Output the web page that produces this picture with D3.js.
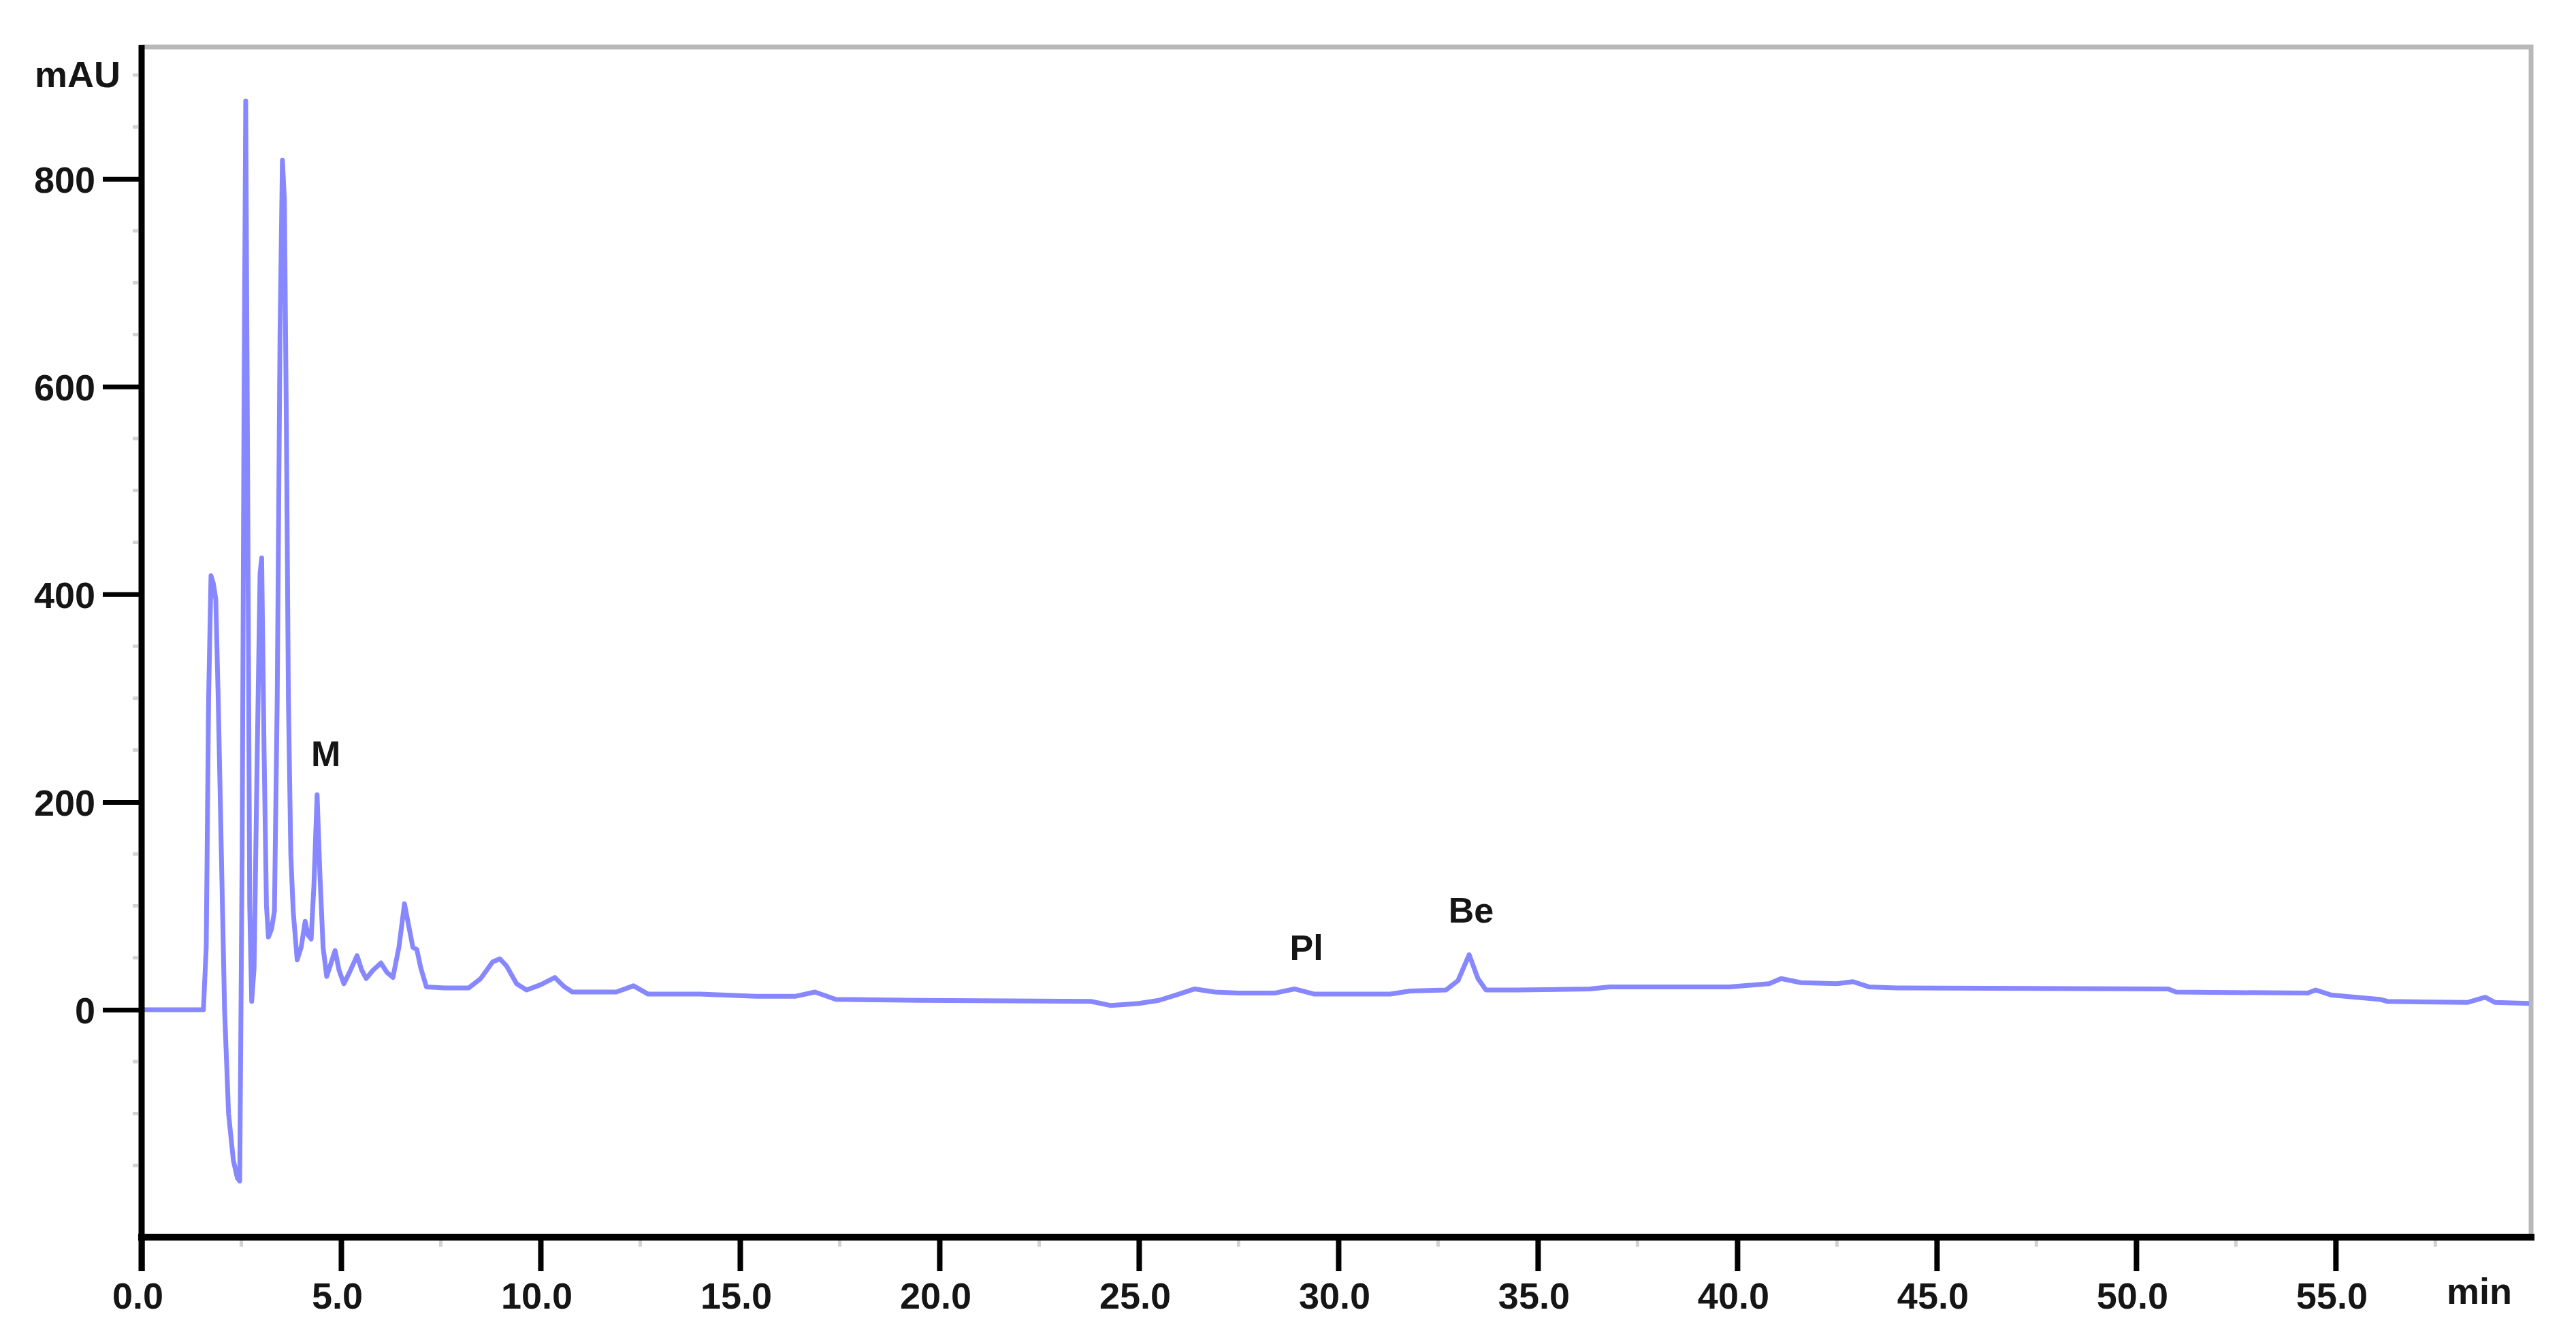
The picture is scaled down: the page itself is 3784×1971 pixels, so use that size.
<!DOCTYPE html>
<html>
<head>
<meta charset="utf-8">
<script src="https://cdn.jsdelivr.net/npm/d3@7"></script>
<style>
  html, body { margin: 0; padding: 0; background: #fff; }
  text { font-family: "Liberation Sans", Arial, sans-serif; font-weight: bold; fill: #151515; }
</style>
</head>
<body>
<div id="chart"></div>
<script>
// chromatogram trace: retention time (min) and absorbance (mAU)
var times = [0, 1.55, 1.62, 1.68, 1.74, 1.8, 1.86, 1.92, 2.0, 2.08, 2.18, 2.3, 2.4, 2.46,
  2.52, 2.57, 2.61, 2.66, 2.71, 2.76, 2.82, 2.9, 2.97, 3.01, 3.07, 3.13, 3.18, 3.26, 3.33,
  3.4, 3.47, 3.53, 3.58, 3.63, 3.68, 3.74, 3.8, 3.9, 4.0, 4.1, 4.17, 4.25, 4.32, 4.4, 4.47,
  4.55, 4.64, 4.75, 4.85, 4.95, 5.07, 5.2, 5.4, 5.52, 5.63, 5.8, 6.0, 6.15, 6.3, 6.45, 6.59,
  6.7, 6.8, 6.9, 7.0, 7.14, 7.6, 8.2, 8.5, 8.8, 8.98, 9.15, 9.4, 9.65, 10.0, 10.36, 10.6,
  10.8, 11.9, 12.33, 12.7, 14.0, 15.4, 16.4, 16.88, 17.4, 19.5, 23.8, 24.3, 25.0, 25.5, 26.0,
  26.4, 26.9, 27.5, 28.4, 28.9, 29.4, 31.3, 31.8, 32.7, 33.0, 33.28, 33.5, 33.7, 34.5, 36.3,
  36.8, 39.8, 40.8, 41.1, 41.6, 42.5, 42.9, 43.3, 44.0, 50.8, 51.0, 54.3, 54.5, 54.9, 56.1,
  56.3, 58.3, 58.75, 59.0, 59.85];
var absorb = [0, 0, 60, 300, 418, 410, 395, 300, 150, 0, -100, -145, -162, -165,
  150, 600, 875, 500, 100, 8, 40, 250, 420, 435, 250, 100, 70, 78, 95,
  300, 650, 818, 780, 560, 300, 150, 95, 48, 60, 85, 72, 68, 120, 207, 130,
  60, 32, 45, 57, 38, 25, 35, 52, 38, 30, 38, 45, 36, 31, 60, 102,
  80, 60, 58, 40, 22, 21, 21, 30, 46, 49, 42, 25, 19, 24, 31, 22,
  17, 17, 23, 15, 15, 13, 13, 17, 10, 9, 8, 4, 6, 9, 15,
  20, 17, 16, 16, 20, 15, 15, 18, 19, 28, 53, 30, 19, 19, 20,
  22, 22, 25, 30, 26, 25, 27, 22, 21, 20, 17, 16, 19, 14, 10,
  8, 7, 12, 7, 6];

var xTicks = [0, 5, 10, 15, 20, 25, 30, 35, 40, 45, 50, 55];
var yTicks = [0, 200, 400, 600, 800];

// peak annotations
var peakNames = ["M", "Pl", "Be"];
var peakTimes = [4.62, 29.2, 33.33];
var peakLabelLevels = [235, 48, 84];

var W = 3784, H = 1971;
var svg = d3.select("#chart").append("svg").attr("width", W).attr("height", H);
svg.append("rect").attr("width", W).attr("height", H).attr("fill", "#fff");

var x = d3.scaleLinear().domain([0, 59.9]).range([208, 3718]);
var y = d3.scaleLinear().domain([-219, 927]).range([1817, 69]);

// grey frame
svg.append("rect")
  .attr("x", x(0)).attr("y", y(927))
  .attr("width", x(59.9) - x(0)).attr("height", y(-219) - y(927))
  .attr("fill", "none").attr("stroke", "#b8b8b8").attr("stroke-width", 7);

// minor ticks (faint)
var yMinor = d3.range(-200, 901, 50).filter(function (d) { return d % 200 !== 0; });
svg.selectAll(".ymin").data(yMinor).enter().append("line")
  .attr("x1", 195).attr("x2", 203)
  .attr("y1", function (d) { return y(d); }).attr("y2", function (d) { return y(d); })
  .attr("stroke", "#d2d2d2").attr("stroke-width", 5);
var xMinor = d3.range(2.5, 58, 5);
svg.selectAll(".xmin").data(xMinor).enter().append("line")
  .attr("x1", function (d) { return x(d); }).attr("x2", function (d) { return x(d); })
  .attr("y1", 1822).attr("y2", 1831)
  .attr("stroke", "#d2d2d2").attr("stroke-width", 5);

// the trace
var pts = times.map(function (t, i) { return [t, absorb[i]]; });
var line = d3.line()
  .x(function (d) { return x(d[0]); })
  .y(function (d) { return y(d[1]); });
svg.append("path").datum(pts)
  .attr("d", line)
  .attr("fill", "none")
  .attr("stroke", "#8787ff")
  .attr("stroke-width", 7)
  .attr("stroke-linejoin", "round");

// axes
var xAxis = d3.axisBottom(x).tickValues(xTicks).tickFormat(d3.format(".1f")).tickSize(50);
var gx = svg.append("g").attr("transform", "translate(0," + y(-219) + ")").call(xAxis);
gx.select(".domain").remove();
gx.selectAll(".tick line").attr("stroke", "#000").attr("stroke-width", 8);
gx.selectAll(".tick text").attr("y", 105).attr("dy", 0).attr("dx", -6)
  .style("font-size", "54px").attr("fill", "#151515");

var yAxis = d3.axisLeft(y).tickValues(yTicks).tickSize(57);
var gy = svg.append("g").attr("transform", "translate(" + x(0) + ",0)").call(yAxis);
gy.select(".domain").remove();
gy.selectAll(".tick line").attr("stroke", "#000").attr("stroke-width", 7);
gy.selectAll(".tick text").attr("x", -68).attr("dy", "0.36em")
  .style("font-size", "54px").attr("fill", "#151515");

// axis lines
svg.append("line").attr("x1", x(0)).attr("x2", x(0)).attr("y1", y(927) - 3).attr("y2", 1867)
  .attr("stroke", "#000").attr("stroke-width", 9);
svg.append("line").attr("x1", x(0) - 5).attr("x2", x(59.9) + 5).attr("y1", y(-219)).attr("y2", y(-219))
  .attr("stroke", "#000").attr("stroke-width", 10);

// units
svg.append("text").attr("x", 51).attr("y", 128).style("font-size", "54px").text("mAU");
svg.append("text").attr("x", 3594).attr("y", 1915).style("font-size", "54px").text("min");

// peak labels
svg.selectAll(".peak").data(peakNames).enter().append("text")
  .attr("x", function (d, i) { return x(peakTimes[i]); })
  .attr("y", function (d, i) { return y(peakLabelLevels[i]); })
  .attr("text-anchor", "middle")
  .style("font-size", "52px")
  .text(function (d) { return d; });
</script>
</body>
</html>
